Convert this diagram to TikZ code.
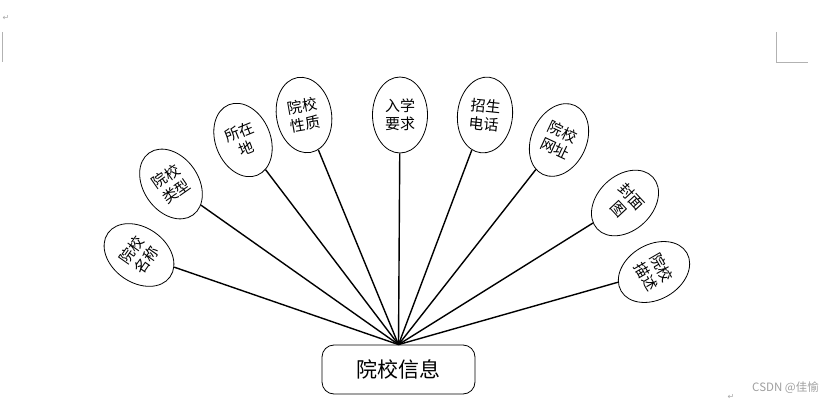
\documentclass[tikz,border=0pt]{standalone}
\usepackage{fontspec}
\setmainfont{Noto Sans CJK SC}
\newfontfamily\dejavu{DejaVu Sans}
\usetikzlibrary{shapes.geometric}
\begin{document}
\begin{tikzpicture}[x=1pt,y=-1pt,
  attr/.style={ellipse, draw, line width=0.8pt, minimum width=55pt, minimum height=76pt,
    inner sep=0pt, align=center, font=\fontsize{15}{18}\selectfont},
  link/.style={line width=1.4pt},
  cornermark/.style={draw=gray!60, line width=0.7pt},
  wordmark/.style={text=gray!70, inner sep=0pt, font=\dejavu\fontsize{8}{8}\selectfont}]
\useasboundingbox (0,0) rectangle (831,401);

\node[draw, rounded corners=12pt, minimum width=153pt, minimum height=49pt, line width=0.8pt,
  font=\fontsize{21}{24}\selectfont] (main) at (398.5,369.5) {院校信息};

\node[attr, rotate=55]  (n1) at (139,255) {院校\\名称};
\node[attr, rotate=35]  (n2) at (171,184) {院校\\类型};
\node[attr, rotate=22]  (n3) at (243,140) {所在\\地};
\node[attr, rotate=10]  (n4) at (304,115) {院校\\性质};
\node[attr]             (n5) at (400,115) {入学\\要求};
\node[attr, rotate=-6]  (n6) at (485,115) {招生\\电话};
\node[attr, rotate=-25] (n7) at (559,140) {院校\\网址};
\node[attr, rotate=-47] (n8) at (625,203) {封面\\图};
\node[attr, rotate=-60] (n9) at (654,272) {院校\\描述};

\foreach \n in {n1,n2,n3,n4,n5,n6,n7,n8,n9}
  \draw[link] (main.north) -- (\n);

\node[text=gray!75, anchor=east, inner sep=0pt, font=\fontsize{11.5}{13}\selectfont] (wm) at (819,388) {CSDN @佳愉};

\draw[cornermark] (2,32) -- (2,62);
\draw[cornermark] (776,32) -- (776,62) -- (808,62);
\node[wordmark] (r1) at (6,18) {↵};
\node[wordmark] (r2) at (731,397) {↵};
\end{tikzpicture}
\end{document}
